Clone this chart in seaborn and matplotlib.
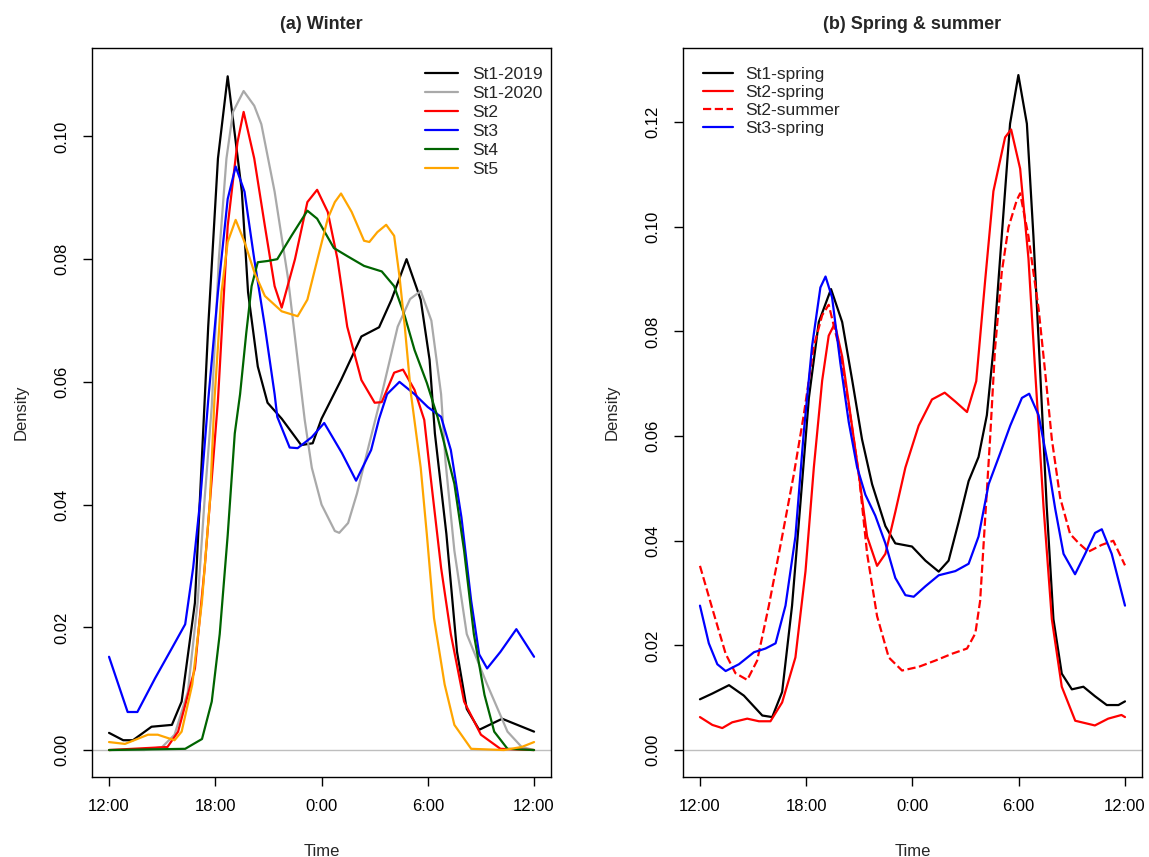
import matplotlib
matplotlib.use('Agg')
from matplotlib import pyplot as plt
import seaborn as sns
import pandas as pd

# hours since midnight of day 1 (12 = 12:00, 24 = 0:00, 36 = 12:00 next day)
TICK_HOURS = [12, 18, 24, 30, 36]
TICK_LABELS = ['12:00', '18:00', '0:00', '6:00', '12:00']

# ---- (a) Winter ----
st1_2019_h = [12.0, 12.8, 13.35, 14.4, 15.55, 16.1, 16.85, 17.4, 17.6, 18.15, 18.7, 19.5, 19.85, 20.4,
              20.95, 21.75, 22.85, 23.5, 24.0, 24.35, 25.1, 26.25, 27.25, 27.95, 28.8, 29.6, 30.1, 30.4,
              31.05, 31.65, 32.2, 32.9, 34.2, 36.0]
st1_2019_d = [0.0028, 0.0016, 0.0016, 0.0038, 0.0041, 0.0079, 0.024, 0.057, 0.069, 0.0964, 0.1098, 0.091,
              0.0746, 0.0625, 0.0566, 0.054, 0.0497, 0.050, 0.054, 0.056, 0.0603, 0.0674, 0.0689, 0.0734,
              0.080, 0.0734, 0.0636, 0.0516, 0.0352, 0.016, 0.0067, 0.0033, 0.0051, 0.003]

st1_2020_h = [12.0, 14.0, 15.0, 15.7, 16.45, 17.0, 17.4, 17.8, 18.2, 18.63, 19.0, 19.6, 20.2, 20.6, 21.35,
              22.1, 22.65, 23.05, 23.45, 24.0, 24.75, 25.0, 25.5, 26.0, 26.7, 27.4, 28.3, 29.0, 29.6, 30.2,
              30.75, 31.0, 31.5, 32.2, 33.35, 34.5, 35.3, 36.0]
st1_2020_d = [0.0, 0.0, 0.0005, 0.0025, 0.0095, 0.024, 0.041, 0.056, 0.080, 0.0964, 0.104, 0.1074, 0.105,
              0.102, 0.091, 0.077, 0.0636, 0.0538, 0.046, 0.040, 0.0357, 0.0354, 0.037, 0.0418, 0.050,
              0.058, 0.069, 0.0735, 0.0748, 0.070, 0.058, 0.047, 0.0325, 0.0189, 0.0107, 0.003, 0.0005, 0.0]

st2_h = [12.0, 15.3, 15.9, 16.85, 17.4, 17.85, 18.15, 18.7, 19.25, 19.6, 20.2, 20.8, 21.35, 21.75, 22.5,
         23.2, 23.75, 24.35, 24.9, 25.45, 26.25, 27.0, 27.4, 28.1, 28.6, 29.25, 29.8, 30.1, 30.75, 31.3,
         32.05, 33.0, 34.1, 36.0]
st2_d = [0.0, 0.0005, 0.003, 0.0133, 0.0297, 0.046, 0.057, 0.0854, 0.099, 0.104, 0.0964, 0.0854, 0.0756,
         0.0721, 0.080, 0.0893, 0.0913, 0.0877, 0.080, 0.069, 0.0603, 0.0566, 0.0567, 0.0615, 0.062, 0.0587,
         0.0538, 0.046, 0.0297, 0.0189, 0.0079, 0.0025, 0.0002, 0.0]

st3_h = [12.0, 13.05, 13.6, 14.6, 15.55, 16.3, 16.75, 17.15, 17.6, 18.15, 18.7, 19.15, 19.65, 20.2, 20.8,
         21.35, 21.5, 22.2, 22.65, 23.45, 24.15, 25.15, 25.95, 26.8, 27.25, 27.7, 28.4, 29.25, 30.0, 30.75,
         31.3, 31.9, 32.45, 32.9, 33.35, 34.1, 35.0, 36.0]
st3_d = [0.0152, 0.0062, 0.0062, 0.0117, 0.0166, 0.0205, 0.0297, 0.0407, 0.057, 0.0746, 0.0898, 0.0951,
         0.091, 0.080, 0.069, 0.058, 0.0543, 0.0493, 0.0492, 0.051, 0.0533, 0.0484, 0.0439, 0.0489, 0.054,
         0.058, 0.060, 0.058, 0.0559, 0.0543, 0.0489, 0.0379, 0.0243, 0.0156, 0.0133, 0.016, 0.0197, 0.0152]

st4_h = [12.0, 16.3, 17.25, 17.8, 18.25, 18.7, 19.1, 19.4, 19.75, 20.05, 20.4, 20.95, 21.5, 22.3, 23.2,
         23.75, 24.7, 25.45, 26.4, 27.4, 28.1, 28.7, 29.25, 29.95, 30.55, 31.5, 32.05, 32.6, 33.2, 33.75,
         34.5, 36.0]
st4_d = [0.0, 0.0002, 0.0018, 0.0079, 0.0189, 0.035, 0.0516, 0.058, 0.068, 0.0756, 0.0795, 0.0797, 0.080,
         0.0838, 0.0879, 0.0866, 0.0818, 0.0805, 0.0789, 0.078, 0.0756, 0.0707, 0.0652, 0.0598, 0.0543,
         0.0434, 0.0325, 0.0189, 0.009, 0.003, 0.0002, 0.0]

st5_h = [12.0, 12.9, 14.2, 14.75, 15.7, 16.1, 16.7, 17.25, 17.7, 17.95, 18.35, 18.7, 19.15, 19.65, 20.2,
         20.8, 21.75, 22.65, 23.2, 23.77, 24.35, 24.75, 25.1, 25.7, 26.4, 26.7, 27.15, 27.65, 28.1, 28.4,
         28.7, 29.05, 29.6, 29.95, 30.35, 30.95, 31.5, 32.45, 34.3, 35.3, 36.0]
st5_d = [0.0013, 0.001, 0.0025, 0.0025, 0.0016, 0.003, 0.0107, 0.0243, 0.0407, 0.057, 0.0746, 0.0828,
         0.0864, 0.0828, 0.0779, 0.074, 0.0715, 0.0707, 0.0734, 0.080, 0.0866, 0.0893, 0.0907, 0.0877,
         0.083, 0.0828, 0.0844, 0.0856, 0.0838, 0.0772, 0.069, 0.058, 0.046, 0.035, 0.0215, 0.0107,
         0.0041, 0.0002, 0.0, 0.0005, 0.0013]

# ---- (b) Spring & summer ----
sp1_h = [12.0, 12.7, 13.64, 14.48, 15.52, 16.08, 16.64, 17.2, 17.68, 18.15, 18.71, 19.4, 20.03, 20.6,
         21.15, 21.72, 22.47, 23.03, 23.97, 24.73, 25.48, 26.04, 26.6, 27.17, 27.73, 28.2, 28.57, 29.04,
         29.51, 29.98, 30.46, 30.83, 31.21, 31.58, 31.96, 32.43, 33.0, 33.65, 34.3, 34.97, 35.63, 36.0]
sp1_d = [0.0097, 0.0108, 0.0124, 0.0104, 0.0066, 0.0063, 0.0111, 0.0276, 0.0475, 0.0673, 0.0818, 0.0881,
         0.0818, 0.0706, 0.0594, 0.0508, 0.0428, 0.0395, 0.0389, 0.0362, 0.0341, 0.0362, 0.0435, 0.0514,
         0.056, 0.064, 0.0766, 0.0982, 0.1197, 0.129, 0.1197, 0.0982, 0.0723, 0.0465, 0.025, 0.0146,
         0.0116, 0.0121, 0.0103, 0.0086, 0.0086, 0.0093]

sp2_h = [12.0, 12.7, 13.26, 13.82, 14.67, 15.33, 15.98, 16.64, 17.39, 17.96, 18.43, 18.9, 19.27, 19.61,
         20.03, 20.5, 20.97, 21.44, 22.0, 22.47, 23.03, 23.6, 24.35, 25.1, 25.82, 26.42, 27.08, 27.6,
         28.1, 28.57, 29.23, 29.57, 30.08, 30.55, 30.93, 31.4, 31.87, 32.43, 33.19, 34.3, 35.05, 35.8, 36.0]
sp2_d = [0.0063, 0.0048, 0.0042, 0.0053, 0.006, 0.0055, 0.0055, 0.0091, 0.0177, 0.0342, 0.054, 0.0706,
         0.0792, 0.0815, 0.0752, 0.064, 0.0527, 0.0408, 0.0352, 0.0375, 0.0455, 0.054, 0.062, 0.067,
         0.0683, 0.0666, 0.0646, 0.0705, 0.0896, 0.1068, 0.1171, 0.1186, 0.1111, 0.0939, 0.0723, 0.0465,
         0.025, 0.0121, 0.0056, 0.0047, 0.006, 0.0067, 0.0063]

su2_h = [12.0, 12.7, 13.45, 14.0, 14.67, 15.23, 15.89, 16.64, 17.3, 17.86, 18.43, 18.9, 19.27, 19.84,
         20.4, 20.97, 21.44, 22.0, 22.66, 23.41, 24.35, 25.29, 26.23, 27.08, 27.55, 27.82, 28.1, 28.38,
         28.66, 29.04, 29.42, 29.89, 30.08, 30.55, 30.83, 31.12, 31.49, 31.87, 32.34, 32.9, 33.37, 33.93,
         34.68, 35.34, 36.0]
su2_d = [0.0352, 0.027, 0.0184, 0.0147, 0.0134, 0.0171, 0.0276, 0.0408, 0.0527, 0.064, 0.0772, 0.0831,
         0.0851, 0.0772, 0.066, 0.0527, 0.0375, 0.0256, 0.0177, 0.0152, 0.0159, 0.0171, 0.0184, 0.0194,
         0.0223, 0.0285, 0.044, 0.0594, 0.0766, 0.0913, 0.0999, 0.1051, 0.1064, 0.0982, 0.0913, 0.0844,
         0.0723, 0.0594, 0.0482, 0.0413, 0.0396, 0.0379, 0.0392, 0.040, 0.0353]

sp3_h = [12.0, 12.5, 12.98, 13.45, 14.2, 15.05, 15.7, 16.27, 16.83, 17.39, 17.86, 18.33, 18.8, 19.09,
         19.46, 19.93, 20.4, 20.87, 21.34, 21.9, 22.47, 23.03, 23.6, 24.07, 24.73, 25.48, 26.42, 27.17,
         27.73, 28.3, 28.95, 29.52, 30.18, 30.59, 31.12, 31.68, 32.06, 32.53, 33.18, 33.75, 34.31, 34.69,
         35.25, 36.0]
sp3_d = [0.0276, 0.0204, 0.0164, 0.0151, 0.0164, 0.0187, 0.0194, 0.0204, 0.0276, 0.0408, 0.0607, 0.0772,
         0.0884, 0.0905, 0.0865, 0.0739, 0.0627, 0.0541, 0.0488, 0.0448, 0.0395, 0.0329, 0.0296, 0.0293,
         0.0313, 0.0334, 0.0342, 0.0356, 0.0408, 0.0508, 0.0567, 0.062, 0.0673, 0.0681, 0.064, 0.0541,
         0.0461, 0.0375, 0.0336, 0.0375, 0.0415, 0.0422, 0.0375, 0.0276]

WINTER = [
    ('St1-2019', st1_2019_h, st1_2019_d, 'black', '-'),
    ('St1-2020', st1_2020_h, st1_2020_d, 'darkgray', '-'),
    ('St2', st2_h, st2_d, 'red', '-'),
    ('St3', st3_h, st3_d, 'blue', '-'),
    ('St4', st4_h, st4_d, 'darkgreen', '-'),
    ('St5', st5_h, st5_d, 'orange', '-'),
]
SPRING = [
    ('St1-spring', sp1_h, sp1_d, 'black', '-'),
    ('St2-spring', sp2_h, sp2_d, 'red', '-'),
    ('St2-summer', su2_h, su2_d, 'red', '--'),
    ('St3-spring', sp3_h, sp3_d, 'blue', '-'),
]


def StyleAxe(axe, title, ymax):
    axe.axhline(0, color='#BEBEBE', lw=1, zorder=1)
    axe.set_xlim(11.04, 36.96)
    axe.set_ylim(-ymax * 0.04, ymax * 1.04)
    axe.set_xticks(TICK_HOURS)
    axe.set_xticklabels(TICK_LABELS)
    yt = [i * 0.02 for i in range(int(ymax / 0.02 + 1e-6) + 1)]
    axe.set_yticks(yt)
    axe.set_yticklabels(['%.2f' % v for v in yt], rotation=90, va='center')
    axe.tick_params(direction='out', length=6.5, width=1, labelsize=12, colors='black')
    axe.tick_params(axis='x', pad=9)
    axe.tick_params(axis='y', pad=10)
    for s in axe.spines.values():
        s.set_visible(True)
        s.set_linewidth(1)
        s.set_color('black')
    axe.set_xlabel('Time', size=12, labelpad=22)
    axe.set_ylabel('Density', size=12, labelpad=18)
    axe.set_title(title, size=13, fontweight='bold', pad=14)


def PlotPanel(axe, series):
    for name, h, d, col, ls in series:
        df = pd.DataFrame({'Time': h, 'Density': d})
        sns.lineplot(x='Time', y='Density', data=df, color=col, lw=1.6, ls=ls,
                     label=name, ax=axe, zorder=2)


def main():
    sns.set_theme(style='ticks')
    plt.rcParams['font.family'] = ['Liberation Sans', 'DejaVu Sans']
    fig = plt.figure(figsize=(11.49, 8.57), dpi=100)
    ax1 = fig.add_axes([0.0801, 0.0933, 0.3995, 0.8506])
    ax2 = fig.add_axes([0.5944, 0.0933, 0.3995, 0.8506])

    PlotPanel(ax1, WINTER)
    StyleAxe(ax1, '(a) Winter', 0.11)
    ax1.legend(loc='upper right', bbox_to_anchor=(1.0, 0.986), frameon=False, fontsize=12.5,
               handlelength=1.9, handletextpad=0.8, labelspacing=0.22, borderaxespad=0.1)

    PlotPanel(ax2, SPRING)
    StyleAxe(ax2, '(b) Spring & summer', 0.129)
    ax2.legend(loc='upper left', bbox_to_anchor=(0.025, 0.986), frameon=False, fontsize=12.5,
               handlelength=1.72, handletextpad=0.7, labelspacing=0.17, borderaxespad=0.1)

    fig.savefig('out.png', dpi=100, facecolor='white')


if __name__ == '__main__':
    main()
